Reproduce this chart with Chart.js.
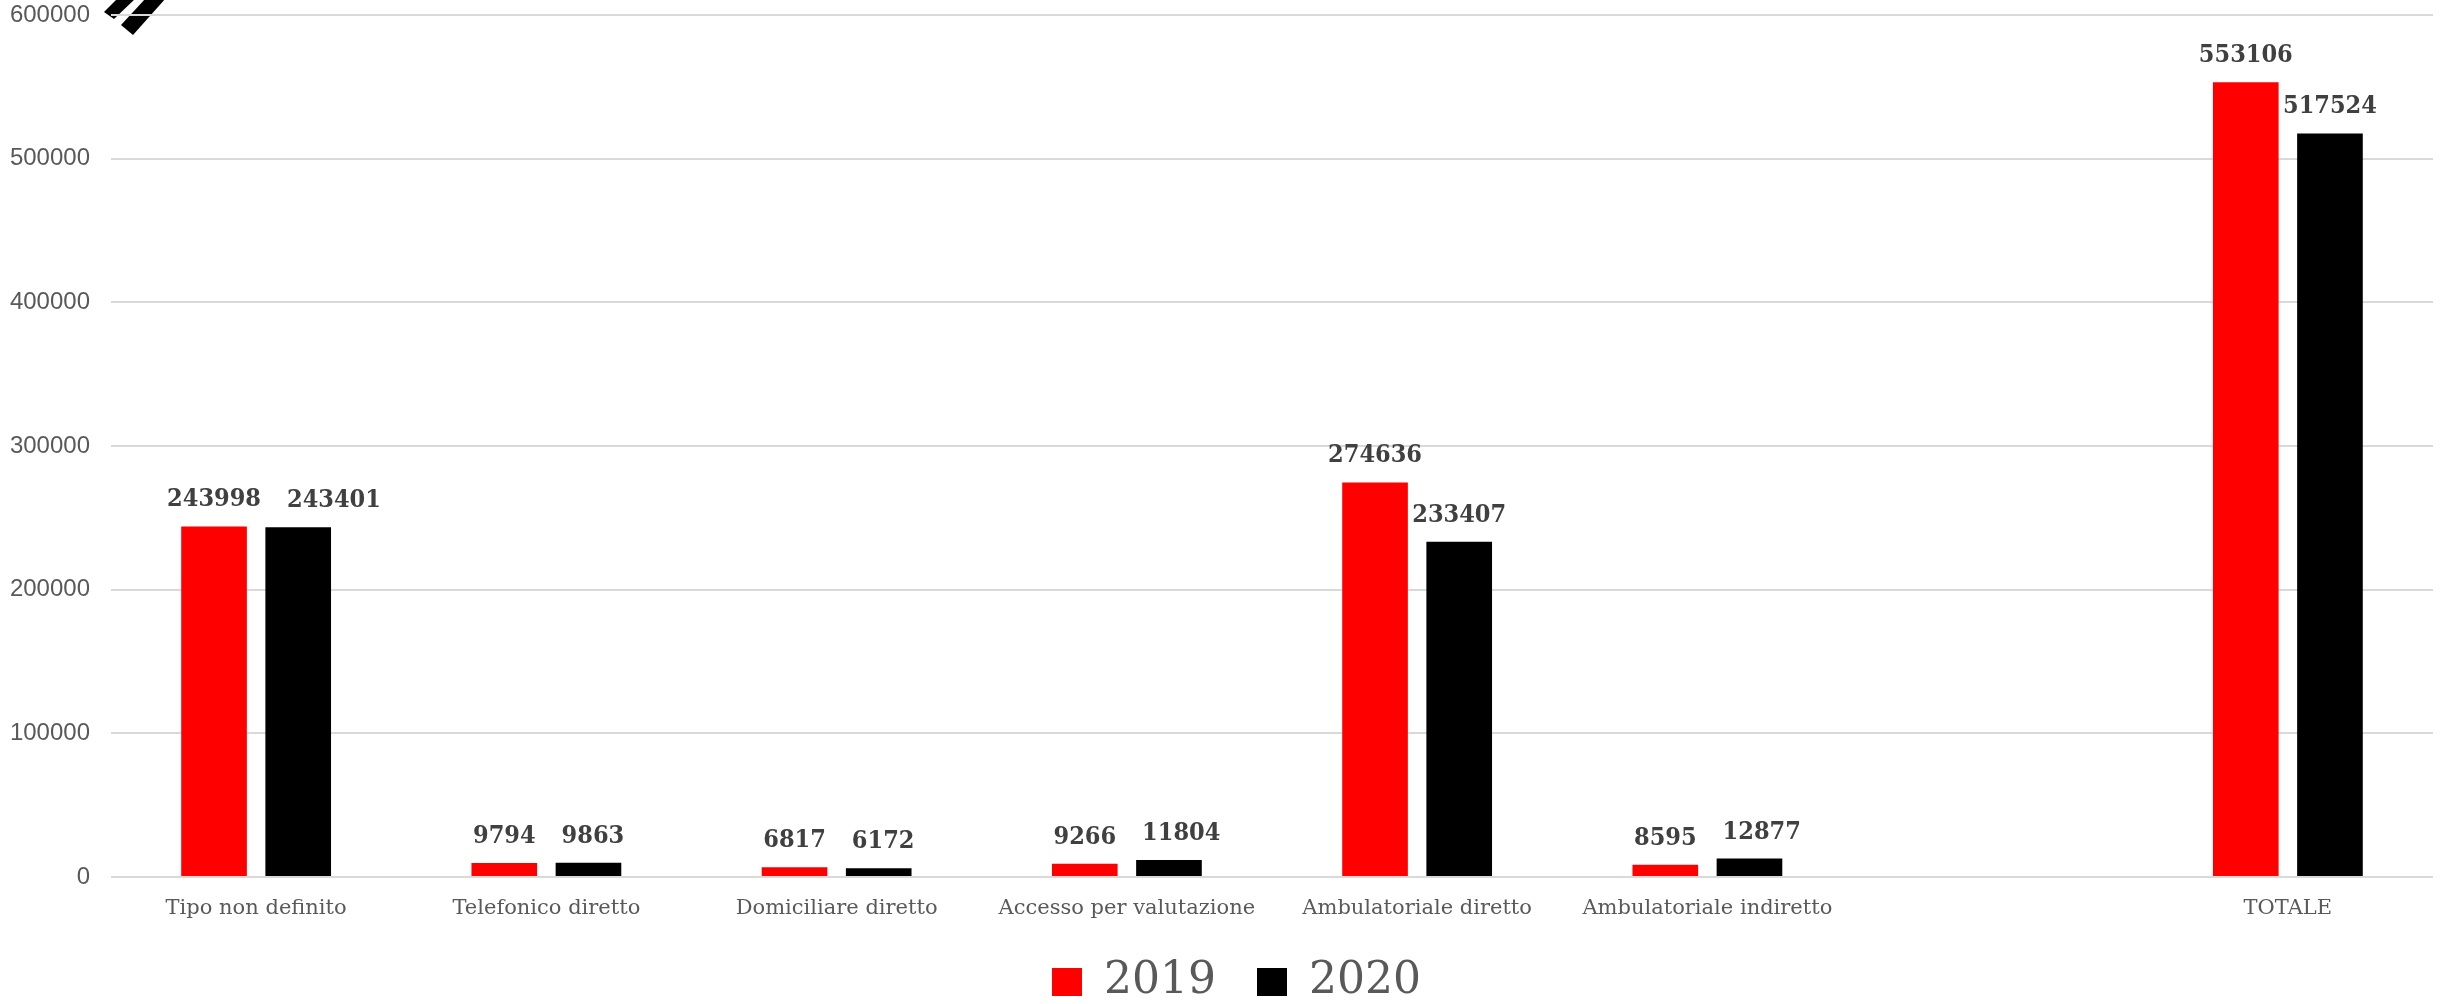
<!DOCTYPE html>
<html>
<head>
<meta charset="utf-8">
<script src="https://cdn.jsdelivr.net/npm/chart.js@4.4.1/dist/chart.umd.min.js"></script>
<style>
  html, body { margin: 0; padding: 0; background: #fff; }
  #wrap { position: relative; width: 2447px; height: 1004px; overflow: hidden; }
  #deco { position: absolute; left: 0; top: 0; }
  #wrap canvas { position: absolute; left: 0; top: 0; }
</style>
</head>
<body>
<div id="wrap">
  <!-- slide decoration, top left -->
  <svg id="deco" width="200" height="60">
    <polygon points="104,12 118,-2 136,-2 114,19" fill="#000"/>
    <polygon points="121,25 146,-2 166,-2 133,35" fill="#000"/>
  </svg>
  <canvas id="myChart"></canvas>
</div>
<script>
const categories = ['Tipo non definito', 'Telefonico diretto', 'Domiciliare diretto', 'Accesso per valutazione',
  'Ambulatoriale diretto', 'Ambulatoriale indiretto', '', 'TOTALE'];
const values2019 = [243998, 9794, 6817, 9266, 274636, 8595, null, 553106];
const values2020 = [243401, 9863, 6172, 11804, 233407, 12877, null, 517524];
const yTicks = [0, 100000, 200000, 300000, 400000, 500000, 600000];

const serif = '"DejaVu Serif", "Liberation Serif", serif';
const serifCond = '"DejaVu Serif Condensed", "DejaVu Serif", serif';
const sans = '"Liberation Sans", Arial, sans-serif';

// value labels above each bar, pushed right when two of them would collide
const barLabels = {
    id: 'barLabels',
    afterDatasetsDraw(chart) {
        const ctx = chart.ctx;
        ctx.save();
        ctx.font = 'bold 25px ' + serifCond;
        ctx.fillStyle = '#404040';
        ctx.textAlign = 'left';
        ctx.textBaseline = 'bottom';
        const metas = chart.data.datasets.map((ds, i) => chart.getDatasetMeta(i));
        chart.data.labels.forEach((lab, j) => {
            let prevRight = null, prevY = null;
            chart.data.datasets.forEach((ds, i) => {
                if (ds.data[j] == null) return;
                const bar = metas[i].data[j];
                const txt = String(ds.data[j]);
                const w = ctx.measureText(txt).width;
                let x = bar.x - w / 2;
                const y = bar.y - 14;
                if (prevRight !== null && Math.abs(y - prevY) < 26 && x < prevRight + 26) {
                    x = prevRight + 26;
                }
                ctx.fillText(txt, x, y);
                prevRight = x + w;
                prevY = y;
            });
        });
        ctx.restore();
    }
};

// fixed legend height and a small shift right, as in the original slide
const legendTweak = {
    id: 'legendTweak',
    beforeLayout(chart) {
        const lg = chart.legend;
        if (lg && !lg._tweaked) {
            const fit = lg.fit;
            lg.fit = function () { fit.call(this); this.height = 85; };
            lg._tweaked = true;
        }
    },
    afterLayout(chart) {
        chart.legend.left += 20;
        chart.legend.right += 20;
    }
};

const canvas = document.getElementById('myChart');
canvas.width = 2447;
canvas.height = 1004;

new Chart(canvas, {
    type: 'bar',
    data: {
        labels: categories,
        datasets: [
            { label: '2019', data: values2019, backgroundColor: '#ff0000', categoryPercentage: 0.58, barPercentage: 0.78 },
            { label: '2020', data: values2020, backgroundColor: '#000000', categoryPercentage: 0.58, barPercentage: 0.78 }
        ]
    },
    options: {
        responsive: false,
        animation: false,
        devicePixelRatio: 1,
        layout: { padding: { top: 0, right: 14, left: 0, bottom: 0 } },
        scales: {
            x: {
                afterFit(scale) { scale.height = 42; },
                grid: { display: false, drawTicks: false },
                border: { display: false },
                ticks: { color: '#595959', font: { family: serif, size: 21, lineHeight: 1 }, padding: 21, maxRotation: 0, autoSkip: false }
            },
            y: {
                min: 0,
                max: 600000,
                afterBuildTicks(scale) { scale.ticks = yTicks.map(v => ({ value: v })); },
                afterFit(scale) {
                    scale.width = 111;
                    scale.paddingTop = 15;
                    scale.paddingBottom = 0;
                },
                grid: { color: '#d9d9d9', lineWidth: 2, drawTicks: false },
                border: { display: false },
                ticks: {
                    color: '#595959',
                    font: { family: sans, size: 24 },
                    padding: 21,
                    callback: v => String(v)
                }
            }
        },
        plugins: {
            legend: {
                position: 'bottom',
                labels: {
                    boxWidth: 30,
                    boxHeight: 28,
                    padding: 41,
                    color: '#595959',
                    font: { family: serif, size: 44 }
                }
            },
            tooltip: { enabled: false }
        }
    },
    plugins: [barLabels, legendTweak]
});
</script>
</body>
</html>
